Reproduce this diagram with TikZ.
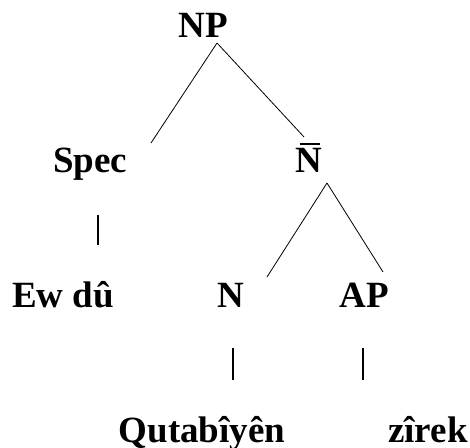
\documentclass[tikz,border=0pt]{standalone}
\usepackage{fontspec}
\setmainfont{Liberation Serif}
\begin{document}
\begin{tikzpicture}[x=1pt,y=1pt,
  lbl/.style={anchor=base,inner sep=0pt,font=\fontsize{37}{40}\selectfont\bfseries},
  edge/.style={line width=0.8pt},
  stem/.style={line width=2pt}]
\useasboundingbox (0,0) rectangle (470,447);
% labels
\node[lbl] (np)   at (203,409) {NP};
\node[lbl] (spec) at (90,274)  {Spec};
\node[lbl] (nbar) at (309,274) {N};
\node[lbl] (ewdu) at (63,140)  {Ew dû};
\node[lbl] (n)    at (231,140) {N};
\node[lbl] (ap)   at (364,140) {AP};
\node[lbl] (qut)  at (202,5)   {Qutabîyên};
\node[lbl] (zir)  at (428,5)   {zîrek};
% bar over N
\coordinate (barL) at (300,303);
\coordinate (barR) at (320,303);
\draw[line width=2.6pt] (barL) -- (barR);
% connector endpoints
\coordinate (np-b)    at (217,404);
\coordinate (spec-t)  at (151,304);
\coordinate (nbar-t)  at (304,310);
\coordinate (nbar-b)  at (327,264);
\coordinate (n-t)     at (267,170);
\coordinate (ap-t)    at (383,175);
\coordinate (spec-s1) at (98,232);
\coordinate (spec-s2) at (98,202);
\coordinate (n-s1)    at (233,99);
\coordinate (n-s2)    at (233,67);
\coordinate (ap-s1)   at (363,99);
\coordinate (ap-s2)   at (363,67);
% connectors
\draw[edge] (np-b) -- (spec-t);
\draw[edge] (np-b) -- (nbar-t);
\draw[edge] (nbar-b) -- (n-t);
\draw[edge] (nbar-b) -- (ap-t);
\draw[stem] (spec-s1) -- (spec-s2);
\draw[stem] (n-s1) -- (n-s2);
\draw[stem] (ap-s1) -- (ap-s2);
\end{tikzpicture}
\end{document}
